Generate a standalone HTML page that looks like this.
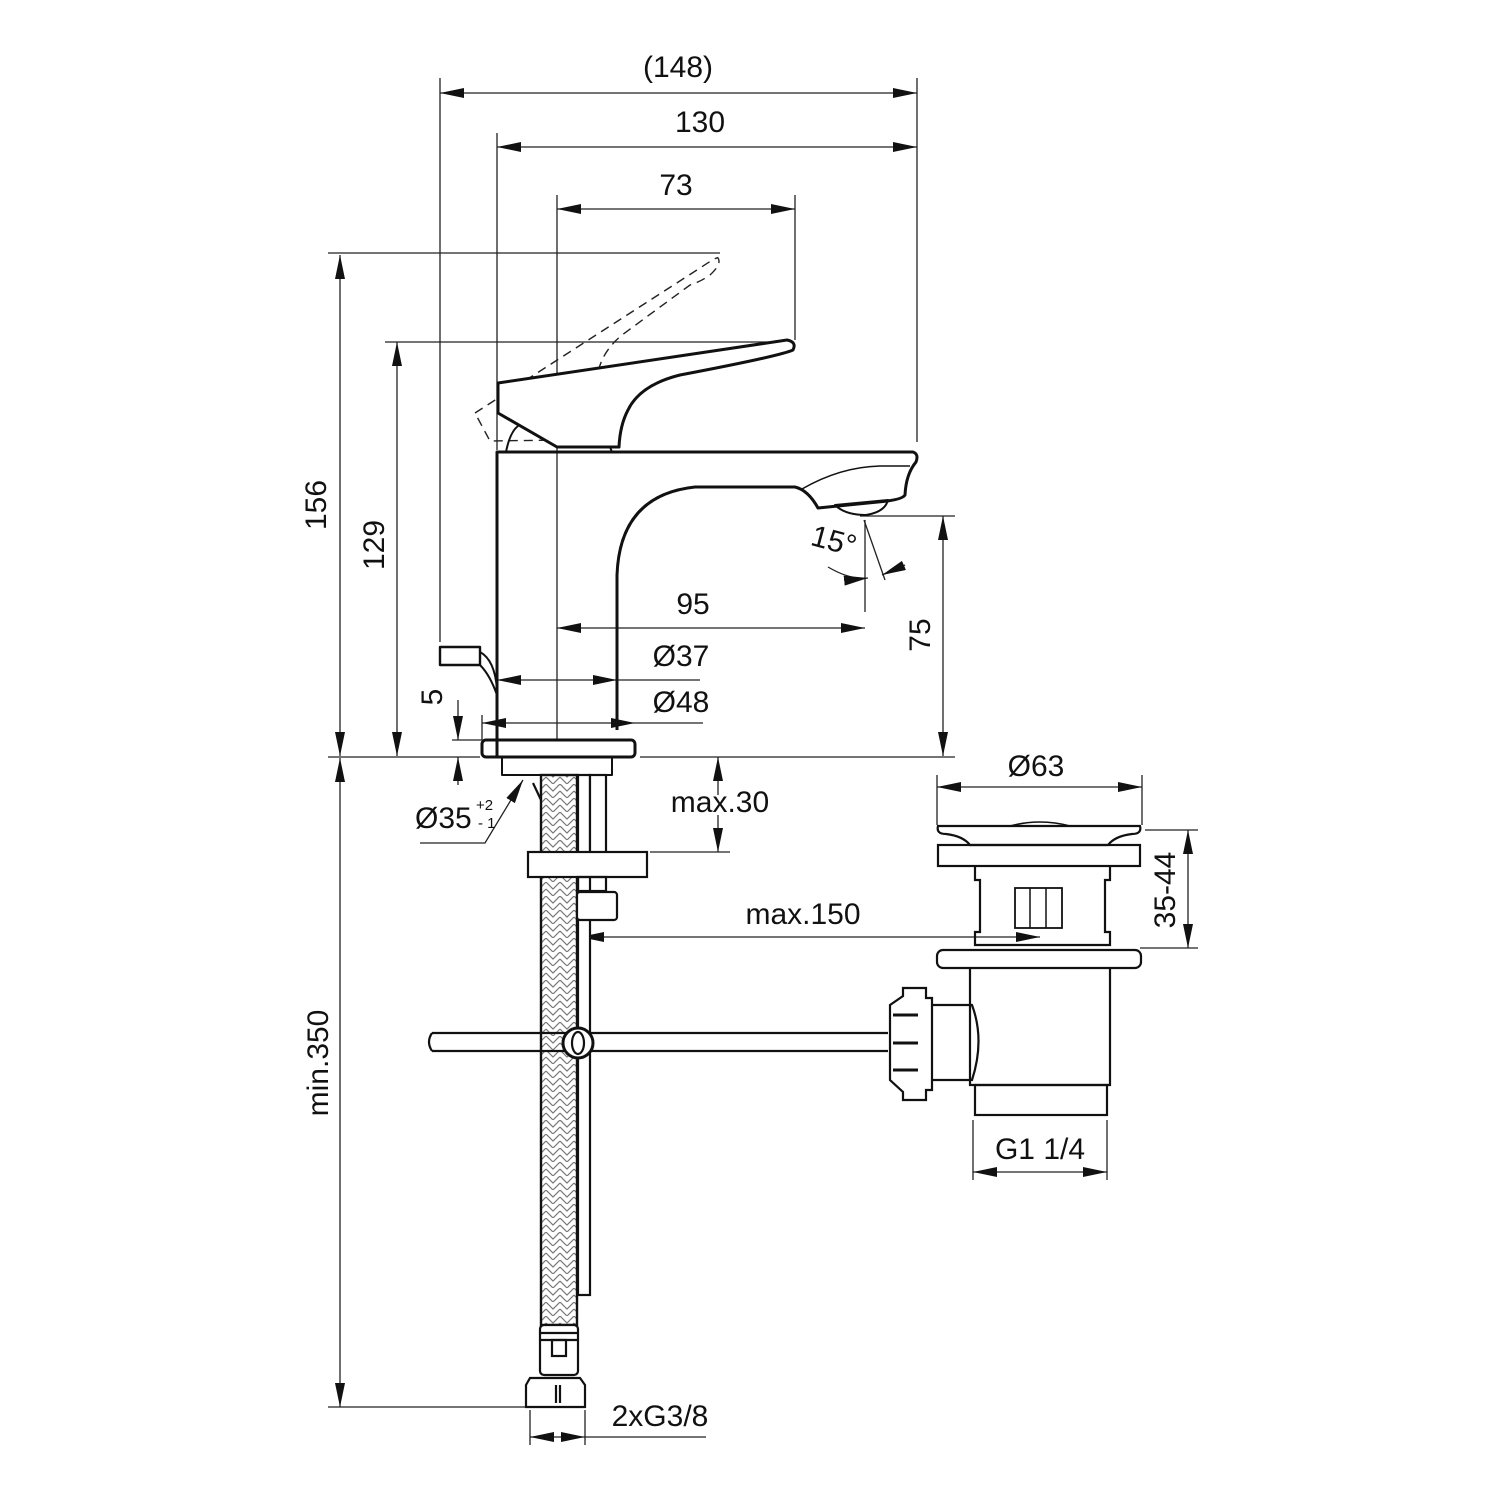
<!DOCTYPE html>
<html><head><meta charset="utf-8"><style>
html,body{margin:0;padding:0;background:#fff}
svg{display:block}
text{font-family:"Liberation Sans",sans-serif;font-size:30px;fill:#111}
</style></head><body>
<svg width="1500" height="1500" viewBox="0 0 1500 1500" xmlns="http://www.w3.org/2000/svg">
<defs>
<marker id="a" viewBox="0 0 24 10" refX="24" refY="5" markerWidth="24" markerHeight="10" markerUnits="userSpaceOnUse" orient="auto-start-reverse">
<path d="M0,0 L24,5 L0,10 Z" fill="#111"/></marker>
<pattern id="br" width="14" height="14" patternUnits="userSpaceOnUse">
<path d="M0,0 L7,7 L14,0 M0,7 L7,14 L14,7" stroke="#777" stroke-width="1.2" fill="none"/></pattern>
</defs>
<g stroke="#222" stroke-width="1.3" fill="none">
<line x1="440" y1="78" x2="440" y2="642"/>
<line x1="917" y1="78" x2="917" y2="442"/>
<line x1="497" y1="133" x2="497" y2="450"/>
<line x1="557" y1="195" x2="557" y2="740"/>
<line x1="795" y1="195" x2="795" y2="340"/>
<line x1="328" y1="253" x2="720" y2="253"/>
<line x1="385" y1="342" x2="790" y2="342"/>
<line x1="328" y1="757" x2="480" y2="757"/>
<line x1="640" y1="757" x2="955" y2="757"/>
<line x1="860" y1="516" x2="955" y2="516"/>
<line x1="865" y1="520" x2="865" y2="612"/>
<line x1="617" y1="680" x2="700" y2="680"/>
<line x1="635" y1="723" x2="703" y2="723"/>
<line x1="482" y1="715" x2="482" y2="740"/>
<line x1="452" y1="740" x2="482" y2="740"/>
<line x1="650" y1="852" x2="730" y2="852"/>
<line x1="937" y1="775" x2="937" y2="825"/>
<line x1="1142" y1="775" x2="1142" y2="825"/>
<line x1="1145" y1="830" x2="1198" y2="830"/>
<line x1="1140" y1="948" x2="1198" y2="948"/>
<line x1="973" y1="1120" x2="973" y2="1180"/>
<line x1="1107" y1="1120" x2="1107" y2="1180"/>
<line x1="328" y1="1407" x2="525" y2="1407"/>
<line x1="530" y1="1410" x2="530" y2="1445"/>
<line x1="585" y1="1410" x2="585" y2="1445"/>
<line x1="585" y1="1437" x2="706" y2="1437"/>
<line x1="440" y1="93" x2="917" y2="93" marker-start="url(#a)" marker-end="url(#a)"/>
<line x1="497" y1="147" x2="917" y2="147" marker-start="url(#a)" marker-end="url(#a)"/>
<line x1="557" y1="209" x2="795" y2="209" marker-start="url(#a)" marker-end="url(#a)"/>
<line x1="340" y1="255" x2="340" y2="756" marker-start="url(#a)" marker-end="url(#a)"/>
<line x1="340" y1="758" x2="340" y2="1407" marker-start="url(#a)" marker-end="url(#a)"/>
<line x1="397" y1="342" x2="397" y2="756" marker-start="url(#a)" marker-end="url(#a)"/>
<line x1="943" y1="516" x2="943" y2="756" marker-start="url(#a)" marker-end="url(#a)"/>
<line x1="557" y1="628" x2="865" y2="628" marker-start="url(#a)" marker-end="url(#a)"/>
<line x1="497" y1="680" x2="617" y2="680" marker-start="url(#a)" marker-end="url(#a)"/>
<line x1="482" y1="723" x2="635" y2="723" marker-start="url(#a)" marker-end="url(#a)"/>
<line x1="458" y1="700" x2="458" y2="740" marker-end="url(#a)"/>
<line x1="458" y1="785" x2="458" y2="757" marker-end="url(#a)"/>
<line x1="718" y1="795" x2="718" y2="757" marker-end="url(#a)"/>
<line x1="718" y1="815" x2="718" y2="852" marker-end="url(#a)"/>
<line x1="937" y1="787" x2="1142" y2="787" marker-start="url(#a)" marker-end="url(#a)"/>
<line x1="1188" y1="830" x2="1188" y2="948" marker-start="url(#a)" marker-end="url(#a)"/>
<line x1="580" y1="937" x2="1040" y2="937" marker-start="url(#a)" marker-end="url(#a)"/>
<line x1="973" y1="1172" x2="1107" y2="1172" marker-start="url(#a)" marker-end="url(#a)"/>
<line x1="530" y1="1437" x2="585" y2="1437" marker-start="url(#a)" marker-end="url(#a)"/>
<polyline points="420,843 485,843 523,780" marker-end="url(#a)"/>
<line x1="864" y1="520" x2="885" y2="580"/>
<path d="M828,567 Q850,580 868,578" marker-end="url(#a)"/>
<line x1="905" y1="565" x2="882" y2="575" marker-end="url(#a)"/>
</g>
<path d="M475,413 L700,268 Q718,256 718,258 Q722,264 710,275 Q700,282 690,285 L622,335 Q592,360 598,395 L605,418 L560,440 L490,441 Z" stroke="#222" stroke-width="1.4" fill="none" stroke-dasharray="9,6"/>
<g stroke="#111" stroke-width="3" fill="none" stroke-linejoin="round">
<path d="M497,757 L497,452 L913,452 Q919,454 916,462 Q906,474 905,495 Q902,500 878,502 L818,508 Q808,490 795,487 L695,487 Q620,495 617,575 L617,730"/>
<path d="M802,489 Q840,467 880,466 L910,466" stroke-width="1.5"/>
<path d="M835,505 L888,500 Q885,512 866,515 Q845,515 835,505 Z" stroke-width="2"/>
<path d="M498,383 L787,340 Q797,342 793,350 Q780,356 680,375 Q640,385 628,410 Q620,425 619,447 L557,447 L498,413 Z" fill="#fff"/>
<path d="M506,452 Q510,432 518,426" stroke-width="2"/>
<path d="M610,447 L612,452" stroke-width="2"/>
<rect x="482" y="740" width="153" height="17" rx="4"/>
<rect x="502" y="757" width="110" height="18" stroke-width="2"/>
<rect x="440" y="647" width="40" height="18" stroke-width="2.4"/>
<path d="M480,652 Q495,660 497,690 M480,665 Q490,675 497,695" stroke-width="2"/>
</g>
<rect x="541" y="775" width="36" height="550" fill="url(#br)" stroke="#111" stroke-width="2.4"/>
<g stroke="#111" stroke-width="2.2" fill="none">
<line x1="533" y1="783" x2="541" y2="800"/>
<rect x="578" y="775" width="12" height="520" fill="#fff"/>
<rect x="590" y="775" width="16" height="78" fill="#fff"/>
<rect x="528" y="852" width="119" height="25" fill="#fff"/>
<rect x="578" y="877" width="28" height="14"/>
<rect x="577" y="892" width="40" height="28" rx="3" fill="#fff"/>
<rect x="540" y="1325" width="38" height="50" rx="4" fill="#fff"/>
<line x1="540" y1="1333" x2="578" y2="1333"/><line x1="540" y1="1340" x2="578" y2="1340"/>
<rect x="552" y="1340" width="14" height="16"/>
<path d="M530,1378 L580,1378 L585,1385 L585,1407 L526,1407 L526,1385 Z" fill="#fff"/>
<line x1="556" y1="1385" x2="556" y2="1403"/><line x1="560" y1="1385" x2="560" y2="1403"/>
<path d="M432,1033 L888,1033 M432,1051 L888,1051 M432,1033 Q426,1042 432,1051" fill="none"/>
<circle cx="578" cy="1043" r="15" fill="#fff" stroke-width="3"/>
<ellipse cx="578" cy="1043" rx="6" ry="11"/>
<path d="M938,826 L1140,826 Q1142,834 1132,834 Q1115,836 1108,845 L970,845 Q963,836 946,834 Q936,834 938,826 Z" fill="#fff"/>
<path d="M1010,826 Q1040,818 1070,826" stroke-width="1.5"/>
<rect x="938" y="845" width="202" height="21"/>
<path d="M975,866 L975,880 L980,880 L980,932 L975,932 L975,945 L1110,945 L1110,932 L1105,932 L1105,880 L1110,880 L1110,866"/>
<rect x="1015" y="888" width="47" height="40" stroke-width="1.8"/>
<line x1="1030" y1="888" x2="1030" y2="928" stroke-width="1.5"/><line x1="1046" y1="888" x2="1046" y2="928" stroke-width="1.5"/>
<rect x="937" y="950" width="204" height="18" rx="6" fill="#fff"/>
<path d="M970,968 L970,1085 L1110,1085 L1110,968"/>
<rect x="975" y="1085" width="132" height="30"/>
<path d="M932,1005 L972,1005 Q985,1040 972,1080 L932,1080"/>
<path d="M903,988 L926,988 L926,998 L932,998 L932,1090 L926,1090 L926,1100 L903,1100 L903,1092 L890,1080 L890,1005 L903,996 Z" fill="#fff"/>
<line x1="893" y1="1015" x2="918" y2="1015" stroke-width="3"/><line x1="893" y1="1043" x2="918" y2="1043" stroke-width="3"/><line x1="893" y1="1070" x2="918" y2="1070" stroke-width="3"/>
</g>
<text x="678" y="77" text-anchor="middle">(148)</text>
<text x="700" y="132" text-anchor="middle">130</text>
<text x="676" y="195" text-anchor="middle">73</text>
<text x="693" y="614" text-anchor="middle">95</text>
<text x="681" y="666" text-anchor="middle">Ø37</text>
<text x="681" y="712" text-anchor="middle">Ø48</text>
<text x="720" y="812" text-anchor="middle">max.30</text>
<text x="803" y="924" text-anchor="middle">max.150</text>
<text x="1036" y="776" text-anchor="middle">Ø63</text>
<text x="1040" y="1159" text-anchor="middle">G1 1/4</text>
<text x="660" y="1426" text-anchor="middle">2xG3/8</text>
<text x="415" y="828">Ø35</text>
<text x="476" y="810" style="font-size:15px">+2</text>
<text x="478" y="828" style="font-size:15px">- 1</text>
<text x="810" y="550" transform="rotate(15 830 545)">15°</text>
<text transform="translate(326,505) rotate(-90)" text-anchor="middle">156</text>
<text transform="translate(384,545) rotate(-90)" text-anchor="middle">129</text>
<text transform="translate(328,1063) rotate(-90)" text-anchor="middle">min.350</text>
<text transform="translate(930,635) rotate(-90)" text-anchor="middle">75</text>
<text transform="translate(442,697) rotate(-90)" text-anchor="middle">5</text>
<text transform="translate(1175,890) rotate(-90)" text-anchor="middle">35-44</text>
</svg>
</body></html>
